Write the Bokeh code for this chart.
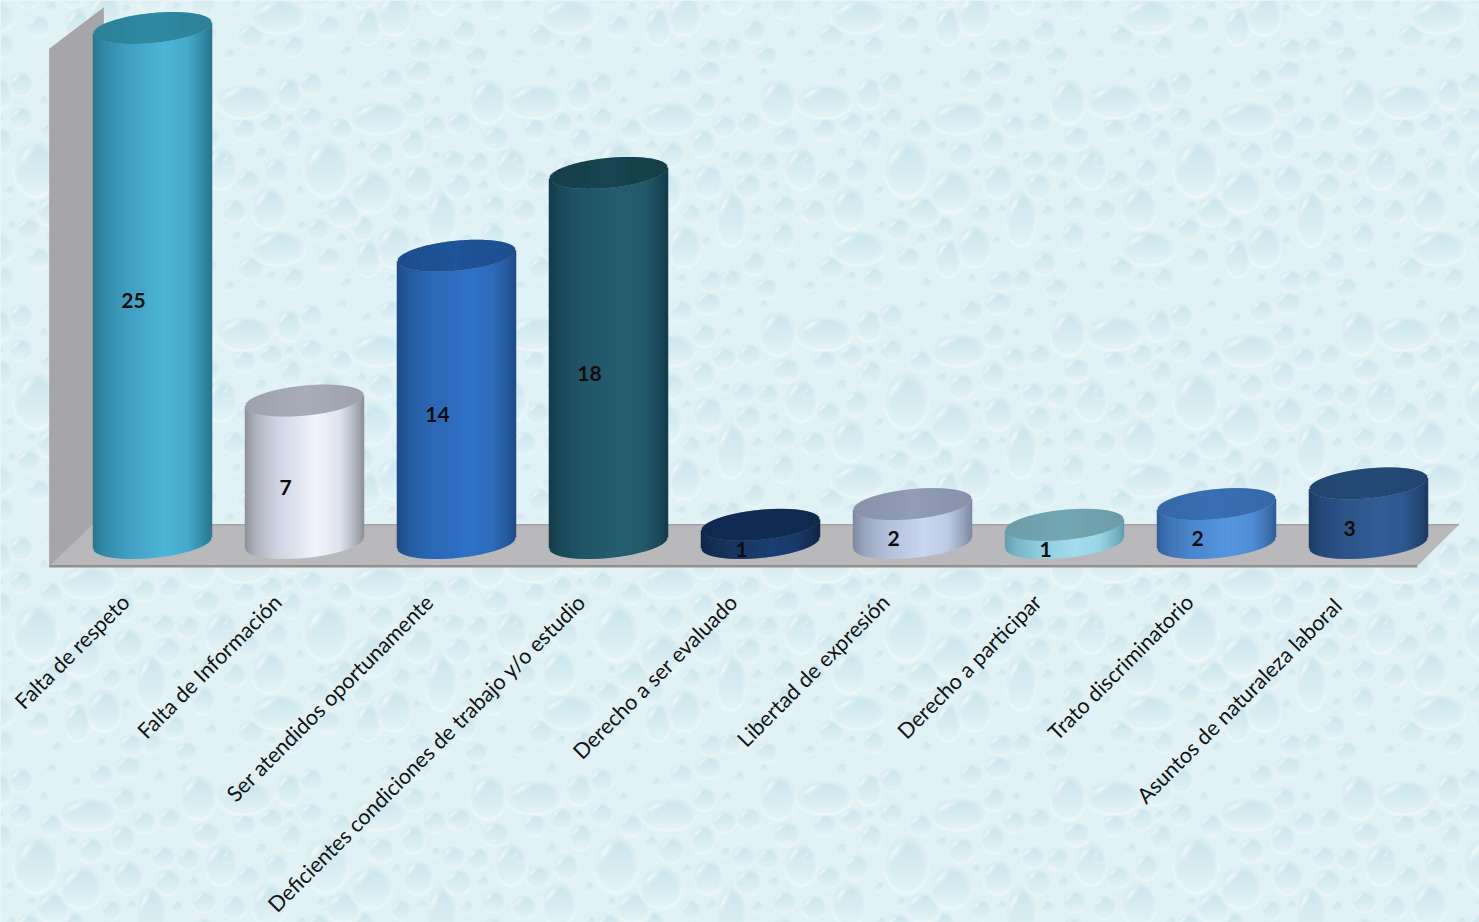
import numpy as np
from bokeh.core.properties import value
from bokeh.embed import file_html
from bokeh.models import ColumnDataSource
from bokeh.plotting import figure
from bokeh.resources import INLINE

# Complaints by category
categories = [
    "Falta de respeto",
    "Falta de Información",
    "Ser atendidos oportunamente",
    "Deficientes condiciones de trabajo y/o estudio",
    "Derecho a ser evaluado",
    "Libertad de expresión",
    "Derecho a participar",
    "Trato discriminatorio",
    "Asuntos de naturaleza  laboral",
]
counts = [25, 7, 14, 18, 1, 2, 1, 2, 3]

# Cylinder shading per category: edge, mid, bright, cap
edge_colors = ["#26778f", "#8f9299", "#1e4d88", "#143c4a", "#0f2648", "#7e8aa3", "#60a0b0", "#2f609a", "#1c3c66"]
mid_colors = ["#3f9dbf", "#d0d4e2", "#2b67b3", "#205566", "#17365f", "#b2bfd8", "#8ecbdc", "#4a86cc", "#2c5387"]
bright_colors = ["#4cb6d6", "#f0f3fb", "#2f71c6", "#255e6f", "#1b3f73", "#c9d6ef", "#a3dded", "#5596e0", "#315d96"]
cap_colors = ["#2f8aa3", "#a9adba", "#1f5498", "#174450", "#122c54", "#929db6", "#73a8b4", "#3a6fb5", "#254a78"]

WIDTH, HEIGHT = 1479, 922
PX_X = 152.0    # pixels per category
PX_Y = 20.7     # pixels per unit of count
X_START = -1.0
Y_TOP = 545 / PX_Y
x_end = X_START + WIDTH / PX_X
y_end = Y_TOP - HEIGHT / PX_Y

HALF_W = 59.0 / PX_X     # cylinder radius along x
MINOR = 15.0 / PX_Y      # cap half height
TILT = 5.5 / PX_Y        # caps lean upward to the right
BASE_LIFT = 2.5 / PX_Y   # the lower rim stops a little short of the cap geometry


def hex_rgb(c):
    return np.array([int(c[i:i + 2], 16) for i in (1, 3, 5)], dtype=float)


def to_hex(rgb):
    return "#%02x%02x%02x" % tuple(int(round(v)) for v in rgb)


# Droplet wallpaper: one tile of hand-placed drops (x, y, rx, ry), repeated across the page
TILE_W, TILE_H = 290, 232
DROPS = [
    (23, 40, 28, 17), (157, 57, 28, 16), (105, 107, 22, 28), (150, 130, 21, 21),
    (220, 157, 15, 28), (57, 187, 27, 17), (173, 185, 17, 21), (267, 40, 18, 22),
    (290, 107, 16, 21), (48, 147, 17, 21), (197, 120, 15, 17), (122, 150, 17, 15),
    (147, 197, 13, 19), (68, 32, 13, 16), (90, 23, 12, 12), (50, 62, 12, 11),
    (23, 68, 12, 11), (90, 57, 12, 11), (120, 68, 12, 11), (170, 18, 12, 11),
    (197, 10, 14, 11), (193, 42, 12, 12), (213, 65, 12, 11), (238, 62, 12, 11),
    (275, 77, 14, 12), (192, 82, 12, 14), (160, 93, 13, 13), (70, 80, 11, 13),
    (55, 110, 12, 13), (27, 120, 12, 11), (13, 150, 12, 12), (232, 100, 12, 11),
    (257, 102, 11, 11), (237, 125, 13, 13), (180, 153, 10, 10), (97, 168, 12, 11),
    (142, 167, 11, 12), (272, 175, 12, 14), (30, 207, 13, 12), (107, 197, 12, 11),
    (72, 217, 11, 11), (200, 220, 13, 11), (220, 218, 11, 10), (243, 202, 12, 12),
    (255, 227, 12, 10), (273, 145, 12, 11),
    # finer droplets filling the gaps
    (40, 12, 6, 6), (120, 12, 6, 5), (145, 25, 5, 5), (228, 20, 6, 6), (252, 12, 5, 5),
    (68, 58, 5, 5), (140, 85, 6, 6), (112, 40, 5, 5), (215, 40, 5, 5), (40, 92, 6, 6),
    (8, 100, 6, 6), (78, 130, 5, 5), (175, 112, 5, 5), (214, 95, 5, 5), (262, 125, 6, 6),
    (100, 145, 5, 5), (200, 148, 6, 5), (246, 150, 6, 6), (80, 165, 5, 5), (120, 178, 6, 6),
    (195, 180, 5, 5), (245, 178, 6, 5), (15, 175, 5, 5), (8, 225, 6, 5), (50, 215, 5, 5),
    (125, 222, 6, 5), (170, 218, 5, 5), (280, 205, 6, 6),
]


def wallpaper():
    yy, xx = np.mgrid[0:HEIGHT, 0:WIDTH].astype(float)
    shade = np.zeros_like(xx)
    glint = np.zeros_like(xx)
    rim = np.zeros_like(xx)
    for cx, cy, rx, ry in DROPS:
        dx = ((xx - 800 - cx + TILE_W / 2) % TILE_W) - TILE_W / 2
        dy = ((yy - 60 - cy + TILE_H / 2) % TILE_H) - TILE_H / 2
        nx, ny = dx / rx, dy / ry
        r = np.sqrt(nx ** 2 + ny ** 2)
        inside = np.clip((1.0 - r) / 0.3, 0, 1)
        shade = np.maximum(shade, inside * np.clip(0.72 - 0.42 * (ny + 1), 0.0, 1))
        ring = np.exp(-((r - 1.03) / 0.08) ** 2)
        rim = np.maximum(rim, ring * np.clip(0.2 + 0.4 * ny, 0, 0.6))
        streak = ((nx + ny) + 0.95) ** 2 * 26 + ((nx - ny) * 0.8) ** 2 * 3
        glint = np.maximum(glint, np.exp(-streak) * inside * 0.8)
    base = np.array([224, 242, 246], dtype=float)
    dark = np.array([192, 224, 233], dtype=float)
    white = np.array([246, 252, 253], dtype=float)
    rgb = base[None, None, :] * (1 - shade[..., None]) + dark[None, None, :] * shade[..., None]
    rgb = rgb * (1 - rim[..., None]) + white[None, None, :] * rim[..., None]
    rgb = rgb * (1 - glint[..., None]) + white[None, None, :] * glint[..., None]
    rgba = np.dstack([rgb, np.full_like(xx, 255.0)]).astype(np.uint8)
    out = np.empty((HEIGHT, WIDTH), dtype=np.uint32)
    out.view(np.uint8).reshape((HEIGHT, WIDTH, 4))[:, :, :] = rgba[::-1]
    return out


p = figure(
    width=WIDTH, height=HEIGHT,
    x_range=(X_START, x_end), y_range=(y_end, Y_TOP),
    x_axis_location=None, y_axis_location=None,
    toolbar_location=None, output_backend="svg",
    min_border=0,
)
p.grid.visible = False
p.outline_line_color = None
p.background_fill_color = "#e0f2f6"
p.border_fill_color = "#e0f2f6"

p.image_rgba(image=[wallpaper()], x=X_START, y=y_end, dw=x_end - X_START, dh=Y_TOP - y_end)

# Back wall and floor of the 3-D plot box
FLOOR = 1.0
wall_top = max(counts)
FRONT_X, BACK_X, FLOOR_BACK_X = -0.68, -0.32, -0.395
FRONT_END, BACK_END = 8.32, 8.595
p.patch([FRONT_X, FRONT_X, BACK_X, BACK_X],
        [-FLOOR, wall_top - FLOOR, wall_top + FLOOR, FLOOR],
        fill_color="#a6a6aa", line_color=None)
p.patch([FRONT_X, FLOOR_BACK_X, BACK_END, FRONT_END],
        [-FLOOR, FLOOR, FLOOR, -FLOOR],
        fill_color="#b9b9bc", line_color=None)
p.line([FLOOR_BACK_X, BACK_END], [FLOOR, FLOOR], line_color="#a3a0a2", line_width=1.5)
p.line([FRONT_X, FRONT_END], [-FLOOR, -FLOOR], line_color="#97908f", line_width=2.5)

# Cylinders are stacks of one-pixel strips so the horizontal shading can vary
strip_rel = np.arange(-59.0, 59.1, 1.0) / 59.0
stops = np.array([-1.0, -0.82, -0.45, 0.2, 0.6, 0.86, 1.0])
left, right, bottom, top, fill = [], [], [], [], []
cap_left, cap_right, cap_bottom, cap_top, cap_fill = [], [], [], [], []
for i, v in enumerate(counts):
    edge, mid, bright, cap = (hex_rgb(edge_colors[i]), hex_rgb(mid_colors[i]),
                              hex_rgb(bright_colors[i]), hex_rgb(cap_colors[i]))
    ramp = np.array([edge, (edge + mid) / 2, mid, bright, (mid + bright) / 2, (edge + mid) / 2, edge])
    for d in strip_rel:
        rgb = [np.interp(d, stops, ramp[:, k]) for k in range(3)]
        arc = MINOR * np.sqrt(max(0.0, 1 - d * d))
        lean = TILT * d
        x0 = i + d * HALF_W - 0.75 / PX_X
        x1 = i + d * HALF_W + 0.75 / PX_X
        left.append(x0)
        right.append(x1)
        bottom.append(lean - arc + BASE_LIFT)
        top.append(v + lean - arc)
        fill.append(to_hex(rgb))
        cap_left.append(x0)
        cap_right.append(x1)
        cap_bottom.append(v + lean - arc)
        cap_top.append(v + lean + arc)
        cap_fill.append(to_hex(cap * (0.93 + 0.07 * (1 - abs(d)))))

p.quad(left=left, right=right, bottom=bottom, top=top, fill_color=fill, line_color=None)
p.quad(left=cap_left, right=cap_right, bottom=cap_bottom, top=cap_top, fill_color=cap_fill, line_color=None)

# Value labels sit left of each cylinder's axis, at mid height
values_src = ColumnDataSource(dict(
    x=list(range(len(counts))),
    y=[v / 2 for v in counts],
    text=[str(v) for v in counts],
))
p.text(x="x", y="y", text="text", source=values_src,
       x_offset=-19, y_offset=14,
       text_align="center", text_baseline="middle",
       text_font=value("Lato"), text_font_style="bold", text_font_size="21px",
       text_color="#0c0c0c")

# Category labels run up to the right and end just under the floor
labels_src = ColumnDataSource(dict(
    x=list(range(len(categories))),
    y=[-FLOOR] * len(categories),
    text=categories,
))
p.text(x="x", y="y", text="text", source=labels_src,
       angle=45, angle_units="deg",
       x_offset=-27, y_offset=32,
       text_align="right", text_baseline="middle",
       text_font=value("Lato"), text_font_size="21.6px",
       text_color="#141414")

open("out.html", "w").write(file_html(p, INLINE))
